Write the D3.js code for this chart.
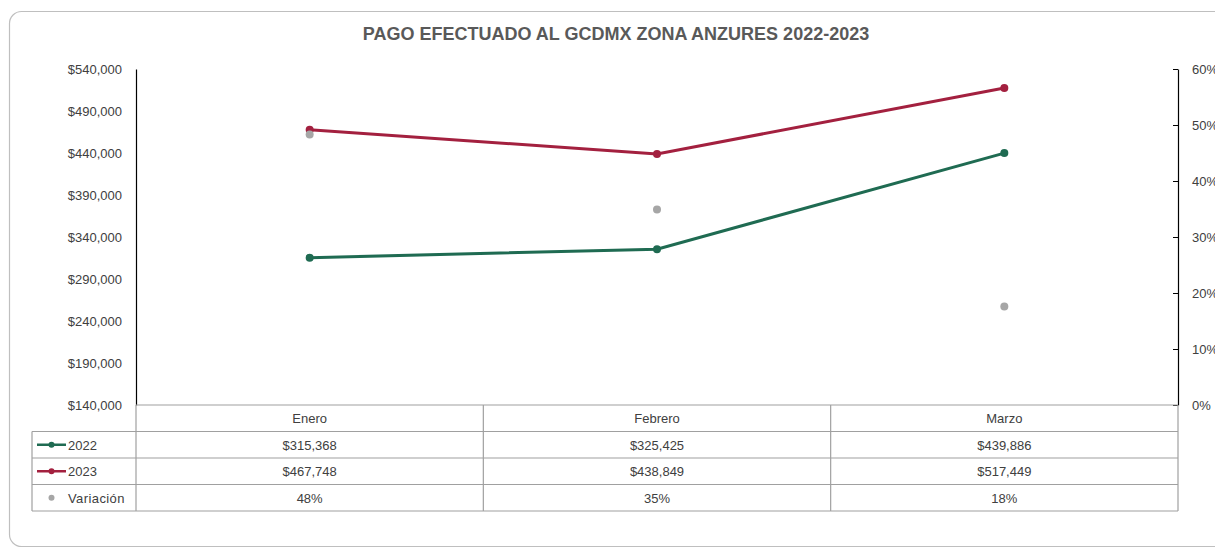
<!DOCTYPE html>
<html>
<head>
<meta charset="utf-8">
<script src="https://cdn.jsdelivr.net/npm/d3@7"></script>
<style>
  body { margin: 0; background: #fff; }
  text { font-family: "Liberation Sans", Arial, sans-serif; }
</style>
</head>
<body>
<div id="chart"></div>
<script>
// datos
const months = ["Enero", "Febrero", "Marzo"];
const pago2022 = [315368, 325425, 439886];
const pago2023 = [467748, 438849, 517449];
const variacion = [0.483, 0.349, 0.176];
const leftTicks = [140000, 190000, 240000, 290000, 340000, 390000, 440000, 490000, 540000];
const rightTicks = [0, 0.1, 0.2, 0.3, 0.4, 0.5, 0.6];

const width = 1215;
const height = 550;
const colors = { y2022: "#1f6b52", y2023: "#a3203f", vari: "#a6a6a6" };
const labelFont = "'Liberation Sans', Arial, sans-serif";

const svg = d3.select("#chart")
    .append("svg")
    .attr("width", width)
    .attr("height", height);

// marco redondeado (cortado a la derecha)
svg.append("rect")
    .attr("x", 9.5).attr("y", 11.5)
    .attr("width", 1240).attr("height", 535)
    .attr("rx", 12)
    .attr("fill", "#fff")
    .attr("stroke", "#bfbfbf")
    .attr("stroke-width", 1.2);

svg.append("text")
    .attr("x", 616).attr("y", 40)
    .attr("text-anchor", "middle")
    .style("font-size", "18px")
    .style("font-weight", "bold")
    .style("fill", "#595959")
    .text("PAGO EFECTUADO AL GCDMX ZONA ANZURES 2022-2023");

const plotLeft = 136, plotRight = 1178, plotTop = 69, plotBottom = 405;

const x = d3.scaleBand()
    .domain(months)
    .range([plotLeft, plotRight]);

const y = d3.scaleLinear()
    .domain([140000, 540000])
    .range([plotBottom, plotTop]);

const y2 = d3.scaleLinear()
    .domain([0, 0.6])
    .range([plotBottom, plotTop]);

// eje izquierdo
const leftAxis = svg.append("g")
    .attr("transform", `translate(${plotLeft},0)`)
    .call(d3.axisLeft(y).tickValues(leftTicks).tickSize(0).tickPadding(14)
        .tickFormat(d => "$" + d3.format(",")(d)));
leftAxis.select(".domain").attr("stroke", "#000").attr("stroke-width", 1.2);
leftAxis.selectAll("text").style("font-size", "13px").style("fill", "#404040")
    .style("font-family", labelFont);

// eje derecho
const rightAxis = svg.append("g")
    .attr("transform", `translate(${plotRight},0)`)
    .call(d3.axisRight(y2).tickValues(rightTicks).tickSize(0).tickPadding(14)
        .tickFormat(d3.format(".0%")));
rightAxis.select(".domain").attr("stroke", "#000").attr("stroke-width", 1.2);
rightAxis.selectAll(".tick line").attr("x1", -5).attr("x2", 0).attr("stroke", "#000");
rightAxis.selectAll("text").style("font-size", "13px").style("fill", "#404040")
    .style("font-family", labelFont);

// tabla de datos
const rowH = 26.5;
const tableLeft = 32;
const rows = [
    { label: "2022", values: pago2022.map(v => "$" + d3.format(",")(v)), key: "line", color: colors.y2022 },
    { label: "2023", values: pago2023.map(v => "$" + d3.format(",")(v)), key: "line", color: colors.y2023 },
    { label: "Variación", values: variacion.map(v => d3.format(".0%")(v)), key: "dot", color: colors.vari }
];
const table = svg.append("g");
const gridColor = "#a0a0a0";

for (let i = 0; i <= rows.length + 1; i++) {
    const yy = plotBottom + i * rowH;
    table.append("line")
        .attr("x1", i === 0 ? plotLeft : tableLeft).attr("x2", plotRight)
        .attr("y1", yy).attr("y2", yy)
        .attr("stroke", gridColor).attr("stroke-width", 1.2);
}
table.append("line")
    .attr("x1", tableLeft).attr("x2", tableLeft)
    .attr("y1", plotBottom + rowH).attr("y2", plotBottom + (rows.length + 1) * rowH)
    .attr("stroke", gridColor).attr("stroke-width", 1.2);
[plotLeft, ...months.map(m => x(m) + x.bandwidth())].forEach(xx => {
    table.append("line")
        .attr("x1", xx).attr("x2", xx)
        .attr("y1", plotBottom).attr("y2", plotBottom + (rows.length + 1) * rowH)
        .attr("stroke", gridColor).attr("stroke-width", 1.2);
});

months.forEach(m => {
    table.append("text")
        .attr("x", x(m) + x.bandwidth() / 2).attr("y", plotBottom + rowH / 2 + 5)
        .attr("text-anchor", "middle")
        .style("font-size", "13px").style("fill", "#404040").style("font-family", labelFont)
        .text(m);
});
rows.forEach((r, i) => {
    const cy = plotBottom + (i + 1) * rowH + rowH / 2;
    r.values.forEach((v, j) => {
        table.append("text")
            .attr("x", x(months[j]) + x.bandwidth() / 2).attr("y", cy + 5)
            .attr("text-anchor", "middle")
            .style("font-size", "13px").style("fill", "#404040").style("font-family", labelFont)
            .text(v);
    });
    if (r.key === "line") {
        table.append("line")
            .attr("x1", 37).attr("x2", 66).attr("y1", cy).attr("y2", cy)
            .attr("stroke", r.color).attr("stroke-width", 2.5);
        table.append("circle").attr("cx", 51.5).attr("cy", cy).attr("r", 3).attr("fill", r.color);
        table.append("text").attr("x", 68).attr("y", cy + 5)
            .style("font-size", "13px").style("fill", "#404040").style("font-family", labelFont)
            .text(r.label);
    } else {
        table.append("circle").attr("cx", 51.5).attr("cy", cy).attr("r", 3).attr("fill", r.color);
        table.append("text").attr("x", 68).attr("y", cy + 5)
            .style("font-size", "13px").style("fill", "#404040").style("font-family", labelFont)
            .style("letter-spacing", "0.4px")
            .text(r.label);
    }
});

// series
const cx = m => x(m) + x.bandwidth() / 2;
const line = d3.line()
    .x((d, i) => cx(months[i]))
    .y(d => y(d));

svg.append("path")
    .datum(pago2022)
    .attr("d", line)
    .attr("fill", "none")
    .attr("stroke", colors.y2022)
    .attr("stroke-width", 3);

svg.append("path")
    .datum(pago2023)
    .attr("d", line)
    .attr("fill", "none")
    .attr("stroke", colors.y2023)
    .attr("stroke-width", 3);

svg.selectAll(".dot2022")
    .data(pago2022).enter().append("circle")
    .attr("cx", (d, i) => cx(months[i])).attr("cy", d => y(d))
    .attr("r", 4).attr("fill", colors.y2022);

svg.selectAll(".dot2023")
    .data(pago2023).enter().append("circle")
    .attr("cx", (d, i) => cx(months[i])).attr("cy", d => y(d))
    .attr("r", 4).attr("fill", colors.y2023);

svg.selectAll(".dotVar")
    .data(variacion).enter().append("circle")
    .attr("cx", (d, i) => cx(months[i])).attr("cy", d => y2(d))
    .attr("r", 4).attr("fill", colors.vari);
</script>
</body>
</html>
